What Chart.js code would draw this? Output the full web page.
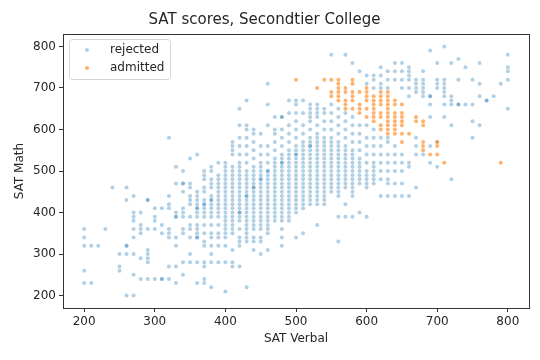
<!DOCTYPE html>
<html>
<head>
<meta charset="utf-8">
<script src="https://cdn.jsdelivr.net/npm/chart.js@4/dist/chart.umd.min.js"></script>
<style>
    body { margin: 0; background: #fff; }
    #wrap { width: 540px; height: 360px; }
</style>
</head>
<body>
<div id="wrap"><canvas id="satChart" width="540" height="360"></canvas></div>
<script>
// Tick labels
const xTickValues = [200, 300, 400, 500, 600, 700, 800];
const yTickValues = [200, 300, 400, 500, 600, 700, 800];

// Rejected applicants: one math list per verbal score column
const rejectedVerbal = [200, 210, 220, 230, 240, 250, 260, 270, 280, 290,
    300, 310, 320, 330, 340, 350, 360, 370, 380, 390,
    400, 410, 420, 430, 440, 450, 460, 470, 480, 490,
    500, 510, 520, 530, 540, 550, 560, 570, 580, 590,
    600, 610, 620, 630, 640, 650, 660, 670, 680, 690,
    700, 710, 720, 730, 740, 750, 760, 770, 780, 790, 800];
const rejectedMath = [
    [230, 260, 320, 340, 360],
    [230, 320],
    [320],
    [360],
    [460],
    [260, 270, 300],
    [200, 300, 320, 320, 430, 460],
    [200, 250, 300, 340, 360, 380, 390, 400, 440],
    [240, 290, 350, 360, 370, 400],
    [240, 280, 290, 300, 310, 360, 430, 430],
    [240, 360, 380, 390, 410],
    [240, 240, 350, 370, 410],
    [240, 270, 340, 350, 360, 410, 420, 440, 580],
    [230, 270, 320, 340, 390, 390, 400, 470, 510],
    [250, 280, 350, 360, 390, 400, 410, 450, 470, 470, 500],
    [280, 300, 340, 360, 370, 390, 420, 430, 440, 460, 470, 530],
    [230, 280, 340, 340, 350, 360, 370, 390, 400, 410, 410, 420, 430, 440, 450, 540],
    [230, 240, 270, 280, 320, 330, 350, 370, 390, 400, 410, 420, 420, 430, 450, 460, 480, 490, 500],
    [220, 280, 300, 320, 340, 350, 370, 390, 400, 410, 420, 430, 430, 440, 460, 470, 480, 500, 510],
    [280, 320, 340, 350, 370, 390, 400, 410, 420, 430, 440, 450, 460, 470, 480, 490, 520],
    [210, 280, 320, 340, 350, 360, 370, 380, 390, 400, 410, 420, 430, 440, 450, 460, 470, 480, 490, 500, 510, 520],
    [270, 280, 310, 350, 360, 370, 380, 390, 400, 410, 420, 430, 440, 450, 460, 470, 480, 490, 500, 510, 540, 550, 560, 570],
    [270, 320, 330, 340, 360, 380, 390, 400, 400, 410, 420, 430, 440, 450, 460, 470, 480, 490, 500, 510, 520, 540, 560, 580, 610, 650],
    [220, 330, 340, 350, 360, 370, 380, 390, 400, 410, 420, 430, 440, 440, 450, 460, 470, 480, 490, 500, 520, 540, 560, 580, 600, 610, 670],
    [310, 330, 340, 360, 370, 380, 390, 400, 410, 420, 430, 440, 450, 460, 460, 470, 480, 490, 500, 510, 530, 550, 570, 590, 600],
    [300, 330, 340, 360, 370, 380, 390, 400, 410, 420, 430, 440, 450, 460, 470, 480, 480, 490, 500, 510, 520, 540, 560, 590],
    [310, 350, 360, 370, 380, 390, 400, 410, 420, 430, 440, 450, 460, 470, 480, 490, 500, 500, 520, 540, 560, 610, 660, 710],
    [380, 390, 400, 410, 420, 430, 440, 450, 460, 470, 480, 490, 500, 510, 520, 530, 550, 570, 590, 600, 630],
    [320, 340, 360, 380, 390, 400, 410, 420, 430, 440, 450, 460, 470, 480, 490, 500, 510, 520, 520, 530, 540, 560, 580, 600, 630, 630],
    [380, 390, 400, 410, 420, 430, 440, 450, 460, 470, 480, 490, 500, 510, 520, 530, 540, 550, 570, 590, 610, 640, 670],
    [340, 400, 410, 420, 430, 440, 450, 460, 470, 480, 490, 500, 510, 520, 530, 540, 540, 550, 560, 580, 600, 620, 640, 660, 670],
    [350, 410, 420, 430, 440, 450, 460, 470, 480, 490, 500, 510, 520, 530, 540, 550, 560, 570, 590, 610, 640, 670],
    [420, 430, 440, 450, 460, 470, 480, 490, 500, 510, 520, 530, 540, 550, 560, 560, 570, 580, 600, 620, 630, 640, 650, 660],
    [370, 420, 430, 440, 450, 460, 470, 480, 490, 500, 510, 520, 530, 540, 550, 560, 570, 580, 590, 610, 630, 640, 650, 660],
    [420, 430, 440, 450, 460, 470, 480, 490, 500, 510, 520, 530, 540, 550, 560, 570, 580, 600, 620, 640, 650],
    [450, 460, 470, 480, 490, 500, 510, 520, 530, 540, 550, 560, 570, 580, 600, 620, 640, 660, 780],
    [330, 390, 440, 450, 460, 470, 480, 490, 500, 510, 520, 530, 540, 550, 560, 570, 590, 610, 630, 650],
    [390, 420, 460, 470, 480, 490, 500, 510, 520, 530, 540, 550, 560, 580, 600, 620, 640, 780],
    [390, 440, 450, 460, 470, 480, 490, 500, 510, 520, 530, 540, 550, 570, 590, 610, 630, 760],
    [400, 470, 480, 490, 500, 510, 520, 530, 550, 570, 590, 610, 740],
    [390, 460, 470, 480, 490, 500, 520, 540, 560, 580, 610, 710, 730],
    [470, 480, 490, 500, 510, 520, 540, 560, 580, 600, 700, 720, 730],
    [440, 480, 500, 520, 540, 560, 580, 700, 710, 730, 750],
    [440, 470, 480, 500, 520, 540, 570, 580, 700, 720, 740],
    [440, 470, 500, 520, 540, 560, 720, 740, 760],
    [440, 470, 500, 520, 540, 700, 720, 740, 760],
    [440, 510, 520, 680, 700, 720, 730, 740, 750],
    [460, 540, 560, 580, 690, 700, 710, 720],
    [540, 680, 690, 700, 710, 720, 740],
    [520, 560, 630, 660, 680, 680, 790],
    [510, 570, 700, 710, 720, 760],
    [630, 660, 680, 690, 700, 710, 720, 800],
    [480, 610, 660, 670, 680, 760],
    [660, 660, 720, 770],
    [660, 750],
    [580, 620, 660, 720],
    [610, 680, 710, 760],
    [670, 670],
    [680],
    [710],
    [650, 720, 740, 750, 780]
];

// Admitted applicants
const admittedVerbal = [500, 530, 540, 550, 560, 570, 580, 590, 600, 610,
    620, 630, 640, 650, 660, 670, 680, 690, 700, 710, 790];
const admittedMath = [
    [720],
    [700],
    [720],
    [720, 690, 680],
    [720, 710, 700, 690, 680, 670],
    [700, 690, 670, 660, 650],
    [720, 710, 690, 680, 670, 650],
    [690, 660, 650, 640],
    [700, 690, 680, 670, 650, 630],
    [680, 670, 660, 650, 640, 630, 620],
    [690, 680, 670, 660, 640, 630, 610, 600],
    [690, 680, 670, 660, 650, 640, 630, 620, 610, 600, 590],
    [670, 660, 640, 630, 620, 610, 600, 590],
    [660, 640, 630, 620, 610, 590, 570],
    [590],
    [630, 620],
    [620, 610, 570, 560, 550],
    [540],
    [570, 560, 540],
    [520],
    [520]
];

// Flatten the columns into {x, y} points
function toPoints(verbal, math) {
    return verbal.flatMap((v, i) => math[i].map(m => ({ x: v, y: m })));
}

const textColor = '#262626';
Chart.defaults.font.family = "'DejaVu Sans', sans-serif";
Chart.defaults.color = textColor;

// Frame around the plot + legend box in the upper left corner
const framePlugin = {
    id: 'frame',
    afterDraw(chart) {
        const { ctx, chartArea: a } = chart;
        ctx.save();
        ctx.strokeStyle = '#333';
        ctx.lineWidth = 1;
        ctx.strokeRect(Math.round(a.left) + 0.5, Math.round(a.top) + 0.5,
            Math.round(a.right - a.left), Math.round(a.bottom - a.top));

        // legend
        const bx = a.left + 6, by = a.top + 5, bw = 101, bh = 40;
        ctx.fillStyle = 'rgba(255,255,255,0.8)';
        ctx.strokeStyle = '#d5d5d5';
        ctx.beginPath();
        ctx.roundRect(bx + 0.5, by + 0.5, bw, bh, 3);
        ctx.fill();
        ctx.stroke();

        ctx.font = "12px 'DejaVu Sans'";
        ctx.textBaseline = 'middle';
        chart.data.datasets.forEach((ds, i) => {
            const cy = by + 11 + i * 18;
            ctx.fillStyle = ds.backgroundColor;
            ctx.beginPath();
            ctx.arc(bx + 18, cy, 2, 0, Math.PI * 2);
            ctx.fill();
            ctx.fillStyle = textColor;
            ctx.fillText(ds.label, bx + 41, cy);
        });
        ctx.restore();
    }
};

const fixedTicks = values => scale => {
    scale.ticks = values.map(v => ({ value: v }));
};

new Chart(document.getElementById('satChart'), {
    type: 'scatter',
    data: {
        datasets: [
            {
                label: 'rejected',
                data: toPoints(rejectedVerbal, rejectedMath),
                backgroundColor: 'rgba(31, 119, 180, 0.35)',
                borderWidth: 0,
                pointRadius: 2,
                order: 2
            },
            {
                label: 'admitted',
                data: toPoints(admittedVerbal, admittedMath),
                backgroundColor: 'rgba(255, 127, 14, 0.6)',
                borderWidth: 0,
                pointRadius: 2,
                order: 1
            }
        ]
    },
    options: {
        responsive: false,
        animation: false,
        layout: { padding: { top: 0, right: 11, bottom: 0, left: 0 } },
        plugins: {
            legend: { display: false },
            tooltip: { enabled: false },
            title: {
                display: true,
                text: 'SAT scores, Secondtier College',
                color: textColor,
                font: { size: 15, weight: 'normal' },
                padding: { top: 11, bottom: 5 }
            }
        },
        scales: {
            x: {
                type: 'linear',
                min: 170,
                max: 830,
                afterBuildTicks: fixedTicks(xTickValues),
                afterFit: scale => { scale.height = 52; },
                border: { display: false },
                grid: { drawOnChartArea: false, drawTicks: true, tickLength: 4, color: '#333' },
                ticks: { font: { size: 12 }, color: textColor, padding: 3, maxRotation: 0 },
                title: {
                    display: true,
                    text: 'SAT Verbal',
                    font: { size: 12 },
                    color: textColor,
                    padding: { top: 4, bottom: 13.5 }
                }
            },
            y: {
                type: 'linear',
                min: 170,
                max: 830,
                afterBuildTicks: fixedTicks(yTickValues),
                afterFit: scale => { scale.width = 63; },
                border: { display: false },
                grid: { drawOnChartArea: false, drawTicks: true, tickLength: 4, color: '#333' },
                ticks: { font: { size: 12 }, color: textColor, padding: 3 },
                title: {
                    display: true,
                    text: 'SAT Math',
                    font: { size: 12 },
                    color: textColor,
                    padding: { top: 12.8, bottom: 4 }
                }
            }
        }
    },
    plugins: [framePlugin]
});
</script>
</body>
</html>
